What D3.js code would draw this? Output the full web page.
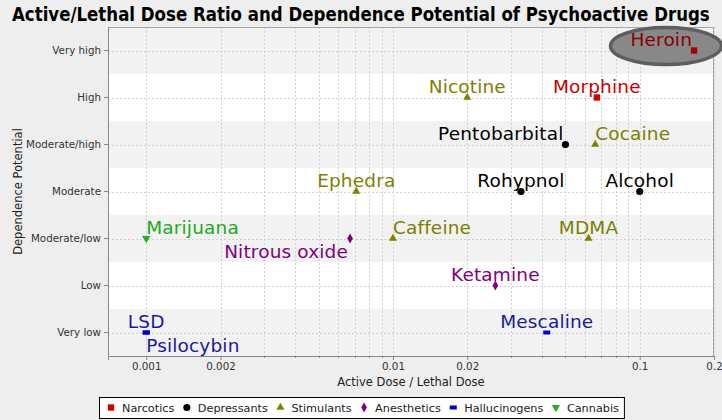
<!DOCTYPE html>
<html>
<head>
<meta charset="utf-8">
<script src="https://cdn.jsdelivr.net/npm/d3@7/dist/d3.min.js"></script>
<style>
  html, body { margin: 0; padding: 0; background: #eeeeee; }
  svg { display: block; }
</style>
</head>
<body>
<svg id="chart" width="722" height="420"></svg>
<script>
// ---------------- DATA ----------------
const chartTitle = "Active/Lethal Dose Ratio and Dependence Potential of Psychoactive Drugs";
const xTitle = "Active Dose / Lethal Dose";
const yTitle = "Dependence Potential";

const dependenceLevels = ["Very low", "Low", "Moderate/low", "Moderate", "Moderate/high", "High", "Very high"];
const xTickValues = [0.001, 0.002, 0.01, 0.02, 0.1, 0.2];
const xTickLabels = ["0.001", "0.002", "0.01", "0.02", "0.1", "0.2"];

const drugClasses = ["Narcotics", "Depressants", "Stimulants", "Anesthetics", "Hallucinogens", "Cannabis"];

const drugs = ["Heroin", "Morphine", "Nicotine", "Pentobarbital", "Cocaine", "Ephedra", "Rohypnol", "Alcohol",
               "Marijuana", "Caffeine", "MDMA", "Nitrous oxide", "Ketamine", "LSD", "Psilocybin", "Mescaline"];
const doseRatios = [0.166, 0.067, 0.020, 0.050, 0.066, 0.0071, 0.033, 0.100,
                    0.001, 0.010, 0.062, 0.0067, 0.026, 0.001, 0.001, 0.042];
const dependence = ["Very high", "High", "High", "Moderate/high", "Moderate/high", "Moderate", "Moderate", "Moderate",
                    "Moderate/low", "Moderate/low", "Moderate/low", "Moderate/low", "Low", "Very low", "Very low", "Very low"];
const drugClass = ["Narcotics", "Narcotics", "Stimulants", "Depressants", "Stimulants", "Stimulants", "Depressants", "Depressants",
                   "Cannabis", "Stimulants", "Stimulants", "Anesthetics", "Anesthetics", "Hallucinogens", "Hallucinogens", "Hallucinogens"];
const highlighted = ["Heroin"];

// ---------------- STYLE / LAYOUT ----------------
const classColor = {
  Narcotics: "#d40000", Depressants: "#000000", Stimulants: "#7f7f00",
  Anesthetics: "#800080", Hallucinogens: "#0000c0", Cannabis: "#22b022"
};
const labelColor = {
  Narcotics: "#cc0000", Depressants: "#000000", Stimulants: "#7f7f00",
  Anesthetics: "#800080", Hallucinogens: "#1a1a9a", Cannabis: "#22aa22"
};
// label anchor relative to the point: [horizontal, vertical]
const labelAnchor = {
  "Heroin": ["end", "bottom"], "Morphine": ["middle", "bottom"], "Nicotine": ["middle", "bottom"],
  "Pentobarbital": ["end", "bottom"], "Cocaine": ["start", "bottom"], "Ephedra": ["middle", "bottom"],
  "Rohypnol": ["middle", "bottom"], "Alcohol": ["middle", "bottom"], "Marijuana": ["start", "bottom"],
  "Caffeine": ["start", "bottom"], "MDMA": ["middle", "bottom"], "Nitrous oxide": ["end", "top"],
  "Ketamine": ["middle", "bottom"], "LSD": ["middle", "bottom"], "Psilocybin": ["start", "top"],
  "Mescaline": ["middle", "bottom"]
};

const W = 722, H = 420;
const plot = { left: 108, right: 714, top: 27, bottom: 356 };
const FONT = "'DejaVu Sans', 'Noto Sans', sans-serif";

const svg = d3.select("#chart");
svg.append("rect").attr("width", W).attr("height", H).attr("fill", "#eeeeee");

// ---------------- SCALES ----------------
const x = d3.scaleLog().domain([0.0007, 0.2]).range([plot.left, plot.right]);
const y = d3.scaleBand().domain(dependenceLevels.slice().reverse()).range([plot.top, plot.bottom]).padding(0);
const yc = d => y(d) + y.bandwidth() / 2;

// ---------------- PLOT BACKGROUND ----------------
const gPlot = svg.append("g");
gPlot.append("rect")
  .attr("x", plot.left).attr("y", plot.top)
  .attr("width", plot.right - plot.left).attr("height", plot.bottom - plot.top)
  .attr("fill", "#ffffff");
gPlot.selectAll("rect.band")
  .data(dependenceLevels.filter((d, i) => i % 2 === 0))
  .join("rect").attr("class", "band")
  .attr("x", plot.left).attr("y", d => y(d))
  .attr("width", plot.right - plot.left).attr("height", y.bandwidth())
  .attr("fill", "#f2f2f2");

// grid
const minorVals = [];
[0.001, 0.01, 0.1].forEach(dec => { for (let k = 1; k <= 9; k++) { const v = dec * k; if (v <= 0.2 + 1e-9) minorVals.push(+v.toPrecision(3)); } });
gPlot.selectAll("line.vgrid").data(minorVals).join("line").attr("class", "vgrid")
  .attr("x1", d => Math.round(x(d)) + 0.5).attr("x2", d => Math.round(x(d)) + 0.5)
  .attr("y1", plot.top).attr("y2", plot.bottom)
  .attr("stroke", "#d0d0d0").attr("stroke-width", 1).attr("stroke-dasharray", "2,2");
gPlot.selectAll("line.hgrid").data(dependenceLevels).join("line").attr("class", "hgrid")
  .attr("x1", plot.left).attr("x2", plot.right)
  .attr("y1", d => Math.round(yc(d)) + 0.5).attr("y2", d => Math.round(yc(d)) + 0.5)
  .attr("stroke", "#d0d0d0").attr("stroke-width", 1).attr("stroke-dasharray", "2,2");

// outline
gPlot.append("rect")
  .attr("x", plot.left + 0.5).attr("y", plot.top + 0.5)
  .attr("width", plot.right - plot.left - 1).attr("height", plot.bottom - plot.top)
  .attr("fill", "none").attr("stroke", "#a8a8a8");

// ---------------- AXES ----------------
const xAxis = d3.axisBottom(x).tickValues(xTickValues)
  .tickFormat((d, i) => xTickLabels[i]).tickSize(4).tickPadding(3);
const gx = svg.append("g").attr("transform", `translate(0,${plot.bottom})`).call(xAxis);
gx.select(".domain").attr("stroke", "#888888");
gx.selectAll(".tick line").attr("stroke", "#888888");
gx.selectAll(".tick text").attr("font-family", FONT).attr("font-size", 10.3).attr("fill", "#333333");
// minor ticks
svg.append("g").selectAll("line").data(minorVals.filter(v => !xTickValues.includes(v))).join("line")
  .attr("x1", d => Math.round(x(d)) + 0.5).attr("x2", d => Math.round(x(d)) + 0.5)
  .attr("y1", plot.bottom).attr("y2", plot.bottom + 2).attr("stroke", "#888888");

const yAxis = d3.axisLeft(y).tickSize(4).tickPadding(3);
const gy = svg.append("g").attr("transform", `translate(${plot.left},0)`).call(yAxis);
gy.select(".domain").attr("stroke", "#888888").attr("d", `M0.5,${plot.top}V${plot.bottom}`);
gy.selectAll(".tick line").attr("stroke", "#888888");
gy.selectAll(".tick text").attr("font-family", FONT).attr("font-size", 10.3).attr("fill", "#333333");

// axis titles
svg.append("text").text(xTitle)
  .attr("x", (plot.left + plot.right) / 2).attr("y", 386)
  .attr("text-anchor", "middle").attr("font-family", FONT).attr("font-size", 11.5).attr("fill", "#222");
svg.append("text").text(yTitle)
  .attr("transform", `translate(22,${(plot.top + plot.bottom) / 2}) rotate(-90)`)
  .attr("text-anchor", "middle").attr("font-family", FONT).attr("font-size", 11.5).attr("fill", "#222");

// title (condensed horizontally to the reference width)
const titleText = svg.append("text").text(chartTitle)
  .attr("x", 0).attr("y", 0)
  .attr("font-family", FONT).attr("font-weight", "bold").attr("font-size", 19).attr("fill", "#000");
const natural = titleText.node().getComputedTextLength();
titleText.attr("transform", `translate(12,21) scale(${698 / natural},1)`);

// ---------------- MARKERS ----------------
function drawMarker(g, cls, cx, cy, color) {
  switch (cls) {
    case "Narcotics":
      g.append("path").attr("d", d3.symbol(d3.symbolSquare, 40)()).attr("transform", `translate(${cx},${cy})`).attr("fill", color); break;
    case "Depressants":
      g.append("path").attr("d", d3.symbol(d3.symbolCircle, 40)()).attr("transform", `translate(${cx},${cy})`).attr("fill", color); break;
    case "Stimulants":
      g.append("path").attr("d", d3.symbol(d3.symbolTriangle, 28)()).attr("transform", `translate(${cx},${cy})`).attr("fill", color); break;
    case "Anesthetics":
      g.append("path").attr("d", d3.symbol(d3.symbolDiamond, 28)()).attr("transform", `translate(${cx},${cy})`).attr("fill", color); break;
    case "Hallucinogens":
      g.append("rect").attr("x", cx - 3.5).attr("y", cy - 2).attr("width", 7).attr("height", 4).attr("fill", color); break;
    case "Cannabis":
      g.append("path").attr("d", d3.symbol(d3.symbolTriangle, 30)()).attr("transform", `translate(${cx},${cy}) rotate(180)`).attr("fill", color); break;
  }
}

const rows = drugs.map((name, i) => ({ name, ratio: doseRatios[i], dep: dependence[i], cls: drugClass[i] }));

// highlight ellipse (behind the label)
const gHi = svg.append("g");
rows.filter(r => highlighted.includes(r.name)).forEach(r => {
  const px = x(r.ratio), py = yc(r.dep);
  gHi.append("ellipse")
    .attr("cx", px - 28).attr("cy", py - 4.5).attr("rx", 55.5).attr("ry", 18.5)
    .attr("fill", "#888888").attr("stroke", "#5e5e5e").attr("stroke-width", 3.5);
});

const gPts = svg.append("g");
rows.forEach(r => {
  const px = x(r.ratio), py = yc(r.dep);
  const hi = highlighted.includes(r.name);
  drawMarker(gPts, r.cls, px, py, hi ? "#a80000" : classColor[r.cls]);
});

// labels
const gLab = svg.append("g");
rows.forEach(r => {
  const px = x(r.ratio), py = yc(r.dep);
  const [h, v] = labelAnchor[r.name];
  const hi = highlighted.includes(r.name);
  const dx = h === "end" ? -2 : 0;
  gLab.append("text").text(r.name)
    .attr("x", px + dx).attr("y", v === "bottom" ? py - 4.5 : py + 19.5)
    .attr("text-anchor", h)
    .attr("font-family", FONT).attr("font-size", 18.5).attr("letter-spacing", 0.15)
    .attr("fill", hi ? "#8a0000" : labelColor[r.cls]);
});

// ---------------- LEGEND ----------------
const gLeg = svg.append("g");
const legBox = gLeg.append("rect").attr("fill", "#ffffff").attr("stroke", "#000").attr("stroke-width", 1);
let cursor = 0;
drugClasses.forEach(c => {
  const it = gLeg.append("g");
  const t = it.append("text").text(c).attr("x", cursor + 11).attr("y", 4)
    .attr("font-family", FONT).attr("font-size", 11.25).attr("fill", "#222");
  drawMarker(it, c, cursor, 0, classColor[c]);
  const w = t.node().getComputedTextLength();
  cursor = cursor + 11 + w + 12.5;
});
const legendInnerW = cursor - 12.5;
const legTop = 397, legH = 21;
const legW = legendInnerW + 12 + 5;
const legX0 = Math.round((W - legW) / 2);
gLeg.attr("transform", `translate(${legX0 + 12},${legTop + legH / 2})`);
legBox.attr("x", -12 + 0.5).attr("y", -legH / 2 + 0.5).attr("width", legW).attr("height", legH);
</script>
</body>
</html>
